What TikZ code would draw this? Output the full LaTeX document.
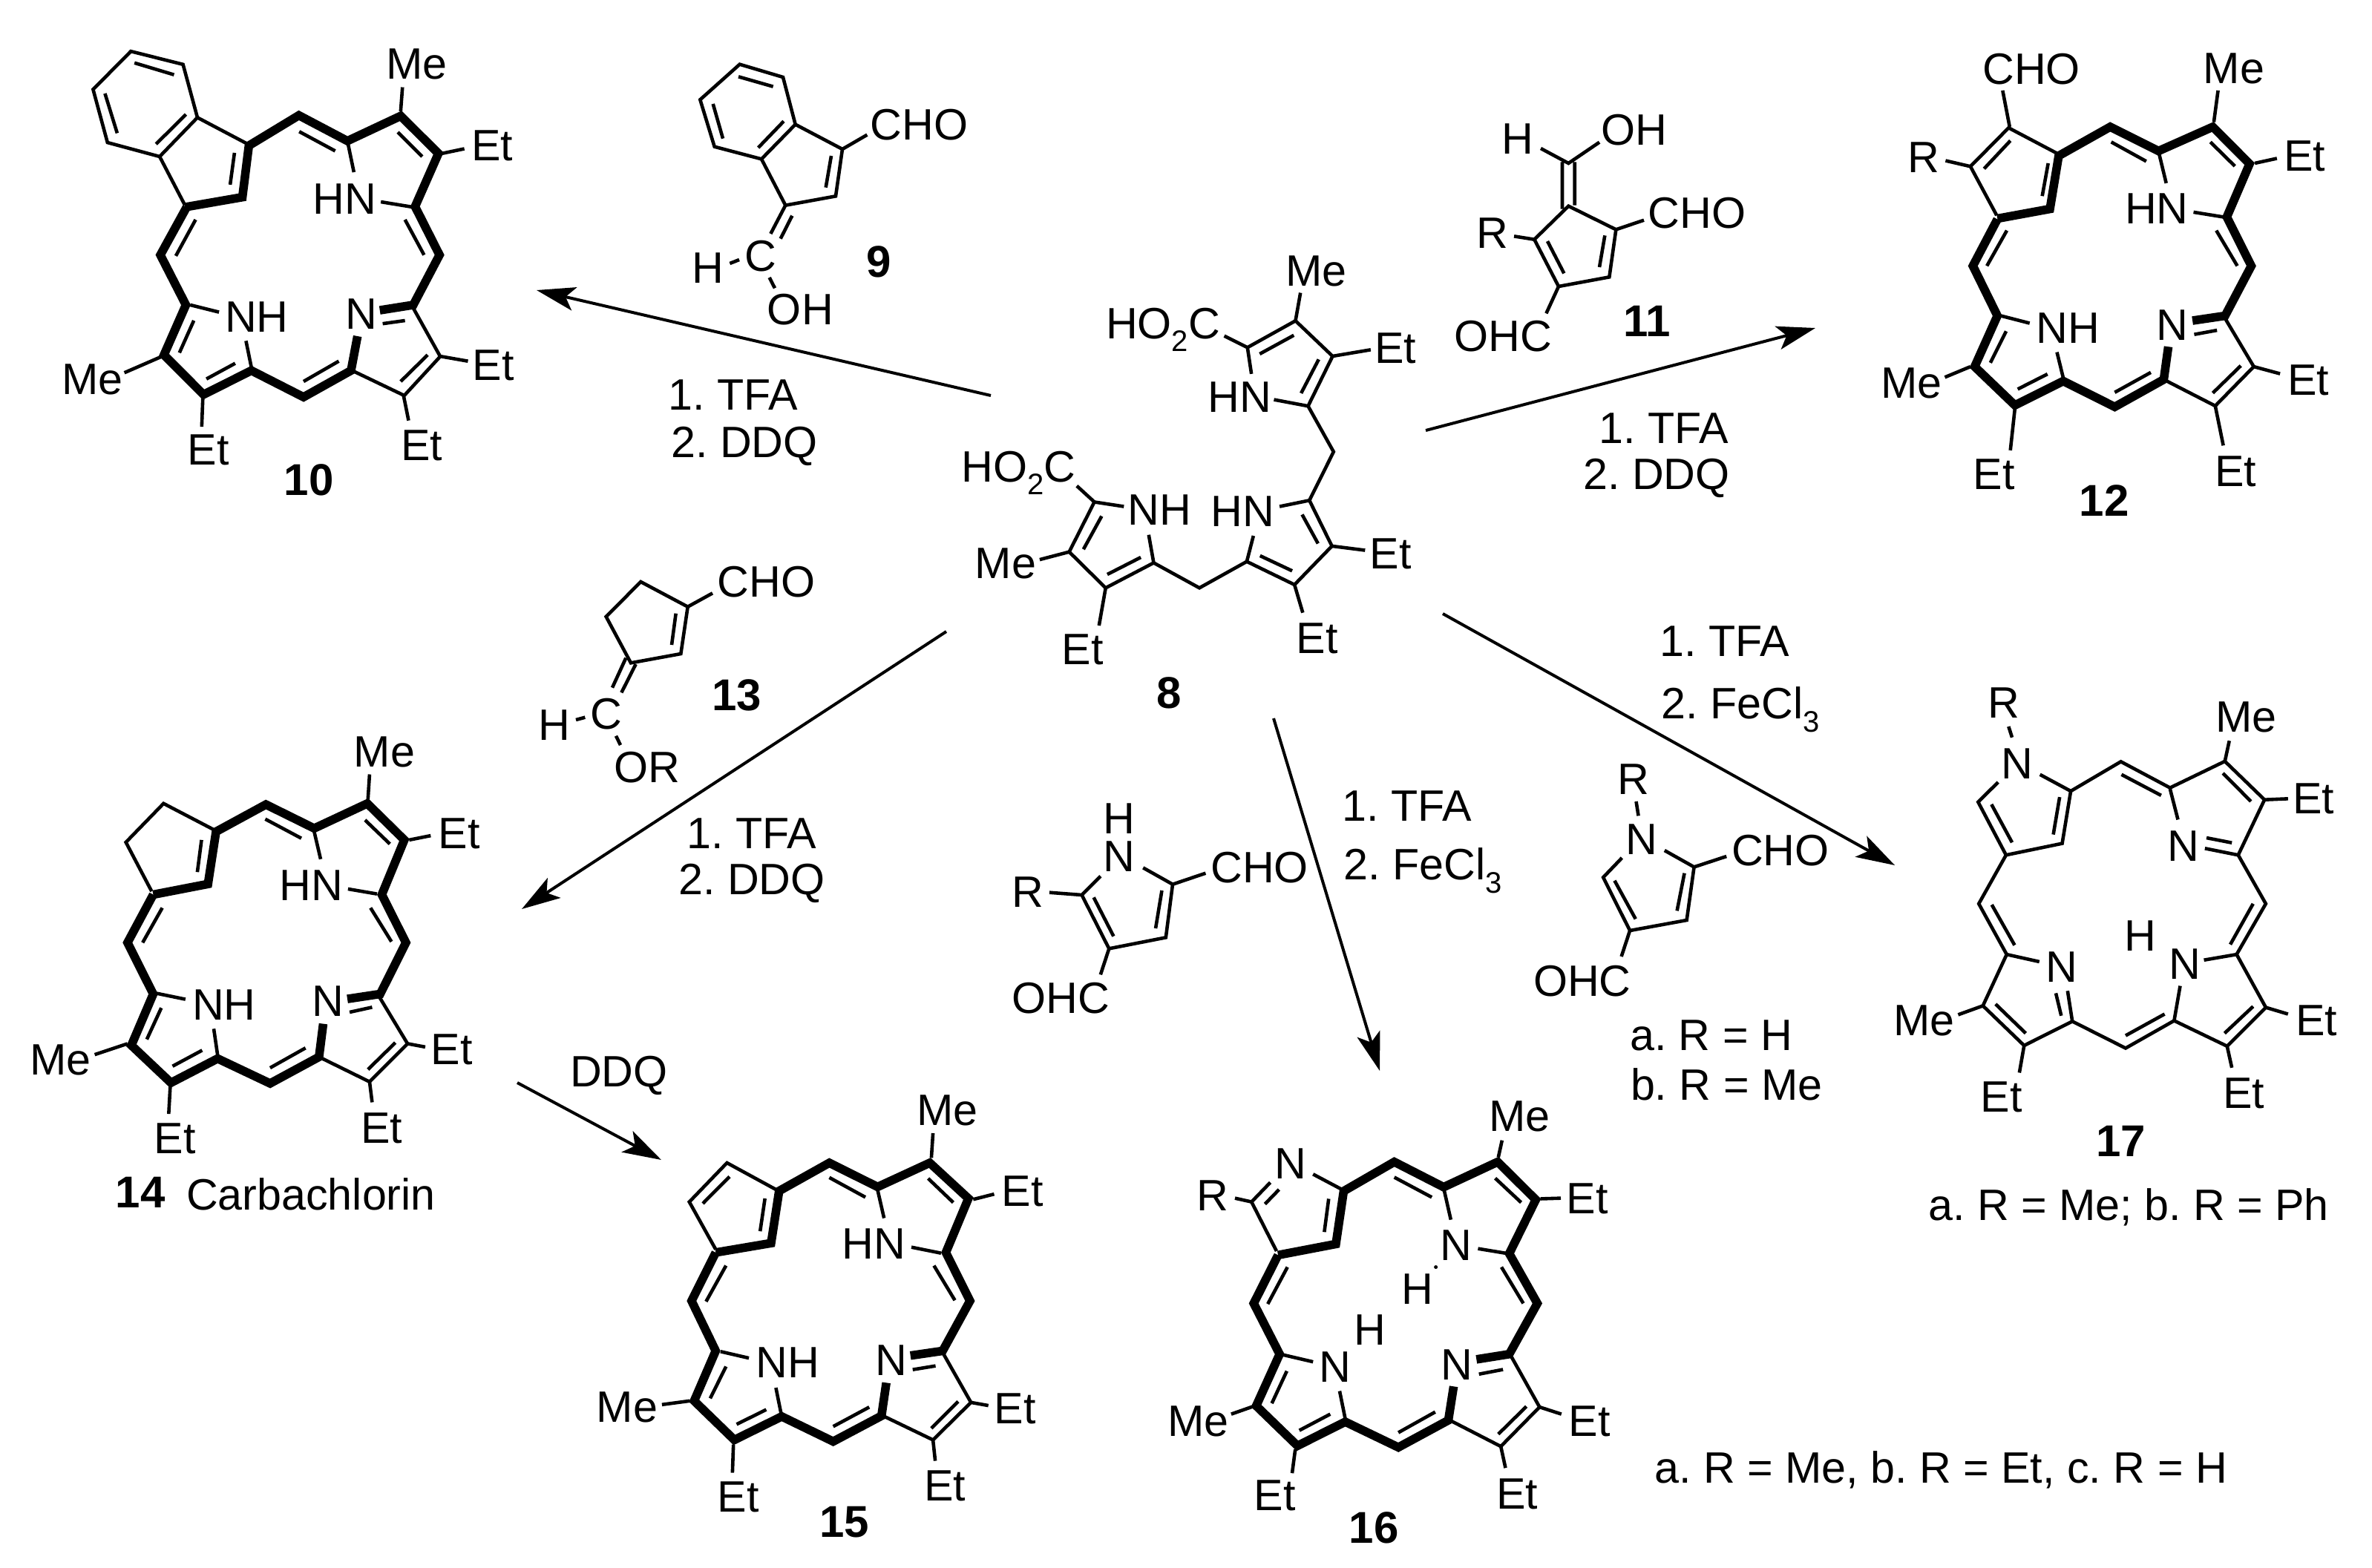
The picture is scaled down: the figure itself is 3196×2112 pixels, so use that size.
\documentclass[tikz,border=0pt]{standalone}
\usepackage{fontspec}
\setmainfont{Liberation Sans}
\usetikzlibrary{arrows.meta}
\newcommand{\lowr}[1]{\raisebox{-0.3em}{\fontsize{10}{11}\selectfont #1}}
\tikzset{
  atom/.style={inner sep=0pt,font=\fontsize{14.8}{16}\selectfont},
  cpd/.style={inner sep=0pt,font=\fontsize{15}{16}\selectfont\bfseries},
  thinb/.style={line width=1.15pt,line join=miter,line cap=butt},
  boldb/.style={line width=2.9pt,line join=miter,line cap=butt},
  rxn/.style={line width=1pt,-{Stealth[length=13pt,width=8pt,inset=3pt]}}
}
\begin{document}
\frenchspacing
\begin{tikzpicture}[x=0.25pt,y=-0.25pt]
\useasboundingbox (0,0) rectangle (3196,2112);
% ---------- reaction arrows
\coordinate (s10) at (1335,533); \coordinate (t10) at (723,391);
\coordinate (s12) at (1921,580); \coordinate (t12) at (2446,442);
\coordinate (s14) at (1275,851); \coordinate (t14) at (703,1225);
\coordinate (s17) at (1944,827); \coordinate (t17) at (2553,1166);
\coordinate (s16) at (1716,968); \coordinate (t16) at (1859,1443);
\coordinate (s15) at (697,1459); \coordinate (t15) at (891,1563);
\draw[rxn] (s10)--(t10);
\draw[rxn] (s12)--(t12);
\draw[rxn] (s14)--(t14);
\draw[rxn] (s17)--(t17);
\draw[rxn] (s16)--(t16);
\draw[rxn] (s15)--(t15);
\node[atom] (r1) at (988,532) {1. TFA};
\node[atom] (r2) at (1003,601) {2. DDQ};
\node[atom] (r3) at (2242,577) {1. TFA};
\node[atom] (r4) at (2232,644) {2. DDQ};
\node[atom] (r5) at (2324,864) {1. TFA};
\node[atom] (r6) at (2345,956) {2. FeCl\lowr{3}};
\node[atom] (r7) at (1013,1123) {1. TFA};
\node[atom] (r8) at (1013,1190) {2. DDQ};
\node[atom] (r9) at (834,1449) {DDQ};
\node[atom] (r10) at (1896,1086) {1. TFA};
\node[atom] (r11) at (1917,1173) {2. FeCl\lowr{3}};
\node[atom] (n17) at (2868,1627) {a. R = Me; b. R = Ph};
\node[atom] (n16) at (2615,1981) {a. R = Me, b. R = Et, c. R = H};
% ---------- 10
\begin{scope}[shift={(60,30)},xscale=.4847,yscale=.4209]
\draw[thinb] (425,305)--(385,135)--(240,93)--(135,215)--(175,385)--(320,430)--cycle;
\draw[thinb] (250,130)--(360,168) (168,228)--(202,355) (310,390)--(393,295);
\draw[thinb] (425,305)--(565,390) (320,430)--(390,585) (528,418)--(516,520);
\draw[boldb] (390,592)--(550,560)--(568,395)--(707,298)--(842,380)--(990,300)--(1095,420)--(1030,590)--(1098,745)--(1025,905)--(932,922);
\draw[boldb] (395,592)--(322,745)--(393,905)--(332,1065)--(442,1192)--(575,1115)--(720,1200)--(852,1115)--(870,1005);
\draw[thinb] (842,380)--(860,480) (935,575)--(1025,592) (405,905)--(485,928) (560,1020)--(575,1105);
\draw[thinb] (1025,915)--(1100,1070)--(1000,1195)--(855,1115);
\draw[thinb] (708,350)--(808,412) (982,352)--(1050,430) (1002,632)--(1055,745) (420,632)--(365,748) (415,955)--(375,1058) (450,1142)--(530,1092) (720,1150)--(818,1085) (940,965)--(1002,955) (990,1150)--(1065,1065);
\draw[thinb] (990,285)--(995,208) (1105,420)--(1167,405) (1103,1070)--(1177,1085) (998,1195)--(1012,1275) (440,1205)--(437,1295) (330,1068)--(222,1122);
\node[atom] (j1) at (1035,135) {Me};
\node[atom] (j2) at (1245,395) {Et};
\node[atom] (j3) at (835,565) {HN};
\node[atom] (j4) at (590,943) {NH};
\node[atom] (j5) at (880,935) {N};
\node[atom] (j6) at (1248,1098) {Et};
\node[atom] (j7) at (1048,1355) {Et};
\node[atom] (j8) at (455,1370) {Et};
\node[atom] (j9) at (133,1143) {Me};
\node[cpd] (j10) at (735,1465) {10};
\end{scope}
% ---------- 12
\begin{scope}[shift={(2460,30)},xscale=.4719,yscale=.4337]
\draw[boldb] (490,610)--(640,580)--(665,415)--(812,325)--(950,400)--(1105,325)--(1210,440)--(1145,605)--(1215,757)--(1140,912)--(1047,927);
\draw[boldb] (490,612)--(420,757)--(490,912)--(425,1070)--(540,1190)--(678,1115)--(825,1195)--(965,1110)--(978,1008);
\draw[thinb] (665,410)--(522,328)--(413,448)--(488,600) (527,368)--(452,455) (635,438)--(618,540);
\draw[thinb] (952,410)--(972,500) (1050,590)--(1135,605) (500,912)--(582,935) (660,1025)--(678,1105);
\draw[thinb] (1140,920)--(1222,1070)--(1112,1192)--(965,1110);
\draw[thinb] (815,372)--(915,432) (1098,372)--(1168,447) (1115,647)--(1175,757) (517,647)--(460,757) (515,960)--(470,1058) (548,1140)--(633,1093) (825,1150)--(928,1088) (1052,970)--(1117,957) (1105,1152)--(1185,1067);
\draw[thinb] (525,325)--(505,212) (413,448)--(342,430) (1108,310)--(1120,212) (1225,438)--(1288,423) (1222,1070)--(1297,1092) (1112,1192)--(1135,1315) (540,1200)--(527,1330) (413,1070)--(340,1103);
\node[atom] (k1) at (587,145) {CHO};
\node[atom] (k2) at (1165,145) {Me};
\node[atom] (k3) at (280,420) {R};
\node[atom] (k4) at (1367,415) {Et};
\node[atom] (k5) at (945,580) {HN};
\node[atom] (k6) at (692,950) {NH};
\node[atom] (k7) at (990,940) {N};
\node[atom] (k8) at (1378,1113) {Et};
\node[atom] (k9) at (1170,1395) {Et};
\node[atom] (k10) at (480,1405) {Et};
\node[atom] (k11) at (245,1122) {Me};
\node[cpd] (k12) at (795,1485) {12};
\end{scope}
% ---------- 14
\begin{scope}[shift={(20,960)},xscale=.4337,yscale=.4464]
\draw[boldb] (430,550)--(600,518)--(625,360)--(780,278)--(930,350)--(1095,275)--(1210,385)--(1140,550)--(1215,695)--(1135,850)--(1033,865);
\draw[boldb] (430,550)--(350,695)--(430,850)--(362,1005)--(485,1118)--(630,1045)--(793,1120)--(945,1040)--(958,940);
\draw[thinb] (620,355)--(462,275)--(345,392)--(425,540);
\draw[thinb] (930,360)--(950,443) (1035,533)--(1125,548) (440,848)--(530,866) (618,955)--(630,1035);
\draw[thinb] (1130,855)--(1220,1000)--(1102,1115)--(945,1040);
\draw[thinb] (580,385)--(567,482) (778,322)--(890,380) (1088,325)--(1165,397) (1105,590)--(1170,692) (458,590)--(397,695) (455,892)--(410,987) (490,1068)--(582,1020) (793,1073)--(903,1013) (1040,905)--(1110,890) (1097,1078)--(1182,997);
\draw[thinb] (1097,262)--(1102,187) (1225,385)--(1292,372) (1220,1000)--(1275,1010) (1102,1115)--(1110,1177) (483,1125)--(478,1212) (350,1000)--(248,1033);
\node[atom] (l1) at (1148,120) {Me};
\node[atom] (l2) at (1380,365) {Et};
\node[atom] (l3) at (920,522) {HN};
\node[atom] (l4) at (650,882) {NH};
\node[atom] (l5) at (972,872) {N};
\node[atom] (l6) at (1357,1018) {Et};
\node[atom] (l7) at (1140,1255) {Et};
\node[atom] (l8) at (497,1287) {Et};
\node[atom] (l9) at (142,1050) {Me};
\node[cpd] (l10) at (390,1450) {14};
\node[atom] (l11) at (920,1455) {Carbachlorin};
\end{scope}
% ---------- 15
\begin{scope}[shift={(780,1450)},xscale=.4337,yscale=.4209]
\draw[boldb] (425,565)--(597,535)--(622,368)--(778,278)--(928,355)--(1090,278)--(1210,392)--(1140,565)--(1215,720)--(1130,880)--(1030,895);
\draw[boldb] (425,565)--(350,720)--(425,880)--(358,1040)--(483,1165)--(630,1090)--(790,1170)--(940,1088)--(955,982);
\draw[thinb] (615,365)--(460,278)--(343,403)--(425,555) (468,322)--(385,408) (578,392)--(563,497);
\draw[thinb] (928,365)--(948,455) (1033,548)--(1125,567) (440,882)--(528,903) (612,998)--(628,1080);
\draw[thinb] (1130,885)--(1218,1045)--(1100,1165)--(945,1088);
\draw[thinb] (778,325)--(890,388) (1085,328)--(1163,405) (1103,607)--(1168,718) (457,607)--(395,722) (457,930)--(408,1032) (490,1115)--(582,1068) (790,1122)--(902,1060) (1037,940)--(1108,928) (1095,1128)--(1178,1042);
\draw[thinb] (1095,262)--(1100,183) (1225,395)--(1290,378) (1218,1045)--(1272,1055) (1100,1165)--(1107,1232) (480,1180)--(477,1270) (345,1040)--(258,1052);
\node[atom] (m1) at (1145,110) {Me};
\node[atom] (m2) at (1378,368) {Et};
\node[atom] (m3) at (917,538) {HN};
\node[atom] (m4) at (648,918) {NH};
\node[atom] (m5) at (970,910) {N};
\node[atom] (m6) at (1355,1065) {Et};
\node[atom] (m7) at (1137,1312) {Et};
\node[atom] (m8) at (495,1348) {Et};
\node[atom] (m9) at (150,1060) {Me};
\node[cpd] (m10) at (825,1428) {15};
\end{scope}
% ---------- 16
\begin{scope}[shift={(1560,1460)},xscale=.4209,yscale=.4145]
\draw[boldb] (385,558)--(570,522)--(595,350)--(757,255)--(915,337)--(1088,255)--(1210,378)--(1125,553)--(1215,715)--(1125,880)--(1020,897);
\draw[boldb] (385,558)--(307,715)--(390,880)--(315,1048)--(447,1178)--(600,1100)--(770,1183)--(930,1095)--(947,985);
\draw[thinb] (590,345)--(497,295) (360,322)--(300,385)--(380,545) (388,345)--(343,392) (547,375)--(533,483);
\draw[thinb] (915,340)--(938,443) (1025,537)--(1120,553) (400,882)--(497,905) (582,1000)--(600,1090);
\draw[thinb] (1130,885)--(1222,1052)--(1098,1180)--(935,1095);
\draw[thinb] (757,305)--(877,370) (1080,308)--(1163,387) (1100,597)--(1170,715) (415,597)--(352,717) (413,935)--(365,1040) (453,1128)--(552,1075) (770,1135)--(888,1068) (1028,945)--(1105,930) (1090,1140)--(1180,1050);
\draw[thinb] (1090,240)--(1102,185) (1225,375)--(1290,373) (1222,1052)--(1292,1075) (1098,1180)--(1113,1250) (440,1190)--(430,1267) (305,1050)--(235,1075) (300,385)--(247,373);
\fill (890,597) circle (6);
\node[atom] (o1) at (425,260) {N};
\node[atom] (o2) at (175,365) {R};
\node[atom] (o3) at (1158,108) {Me};
\node[atom] (o4) at (1375,375) {Et};
\node[atom] (o5) at (955,527) {N};
\node[atom] (o6) at (830,668) {H};
\node[atom] (o7) at (680,800) {H};
\node[atom] (o8) at (567,922) {N};
\node[atom] (o9) at (958,915) {N};
\node[atom] (o10) at (1382,1098) {Et};
\node[atom] (o11) at (1150,1335) {Et};
\node[atom] (o12) at (375,1340) {Et};
\node[atom] (o13) at (130,1098) {Me};
\node[cpd] (o14) at (692,1445) {16};
\end{scope}
% ---------- 17
\begin{scope}[shift={(2520,900)},xscale=.4273,yscale=.4464]
\draw[thinb] (403,345)--(340,405)--(428,565)--(605,530)--(632,372)--(790,283)--(945,362)--(1118,282)--(1243,398)--(1160,565)--(1247,712)--(1155,865)--(1247,1025)--(1125,1142)--(958,1065)--(805,1148)--(637,1067)--(485,1140)--(355,1020)--(430,865)--(342,712)--(428,565);
\draw[thinb] (632,372)--(535,322) (945,365)--(970,458) (1055,545)--(1160,565) (430,865)--(533,887) (622,975)--(637,1067) (1155,865)--(1052,882) (958,1065)--(977,960);
\draw[thinb] (382,412)--(447,527) (597,390)--(577,503) (792,322)--(917,385) (1112,318)--(1200,403) (1060,513)--(1140,528) (1207,712)--(1135,835) (383,715)--(455,837) (585,982)--(602,1050) (395,1015)--(490,1103) (805,1110)--(928,1045) (1117,1103)--(1207,1022);
\draw[thinb] (1118,282)--(1132,220) (1243,398)--(1317,395) (1247,1025)--(1317,1045) (1125,1142)--(1140,1207) (485,1140)--(470,1222) (355,1020)--(277,1047) (447,210)--(436,177);
\node[atom] (p1) at (420,105) {R};
\node[atom] (p2) at (463,290) {N};
\node[atom] (p3) at (1185,148) {Me};
\node[atom] (p4) at (1398,395) {Et};
\node[atom] (p5) at (987,537) {N};
\node[atom] (p6) at (852,808) {H};
\node[atom] (p7) at (992,893) {N};
\node[atom] (p8) at (603,903) {N};
\node[atom] (p9) at (1407,1065) {Et};
\node[atom] (p10) at (1178,1285) {Et};
\node[atom] (p11) at (413,1295) {Et};
\node[atom] (p12) at (170,1065) {Me};
\node[cpd] (p13) at (790,1428) {17};
\end{scope}
% ---------- 8
\begin{scope}[shift={(1250,300)},xscale=.4464,yscale=.4337]
\draw[thinb] (895,352)--(965,388)--(1110,305)--(1222,415)--(1148,570)--(1045,550) (965,388)--(977,470) (1002,408)--(1105,350) (1180,425)--(1127,530);
\draw[thinb] (1148,570)--(1225,712)--(1152,863)--(1062,882) (1152,863)--(1220,1005)--(1107,1125)--(963,1053)--(983,973) (1130,907)--(1178,997) (1100,1082)--(1003,1035);
\draw[thinb] (963,1053)--(820,1135)--(682,1057)--(667,970) (682,1057)--(537,1135)--(427,1023)--(503,868)--(592,882) (503,868)--(450,818) (542,1093)--(643,1040) (470,1015)--(525,912);
\draw[thinb] (1110,305)--(1125,218) (1222,415)--(1337,395) (1220,1005)--(1320,1018) (1107,1125)--(1132,1212) (537,1135)--(517,1252) (427,1023)--(338,1047);
\node[atom] (q1) at (1173,150) {Me};
\node[atom] (q2) at (710,333) {HO\lowr{2}C};
\node[atom] (q3) at (1412,390) {Et};
\node[atom] (q4) at (942,543) {HN};
\node[atom] (q5) at (275,778) {HO\lowr{2}C};
\node[atom] (q6) at (700,893) {NH};
\node[atom] (q7) at (950,897) {HN};
\node[atom] (q8) at (1397,1030) {Et};
\node[atom] (q9) at (1175,1292) {Et};
\node[atom] (q10) at (235,1060) {Me};
\node[atom] (q11) at (467,1327) {Et};
\node[cpd] (q12) at (728,1462) {8};
\end{scope}
% ---------- 9
\begin{scope}[shift={(900,100)},scale=1/3]
\draw[thinb] (290,-40)--(465,12)--(515,203)--(378,343)--(188,293)--(130,103)--cycle;
\draw[thinb] (285,10)--(425,50) (182,120)--(222,260) (365,297)--(468,190);
\draw[thinb] (515,203)--(705,303)--(678,493)--(475,530)--(378,343) (660,330)--(638,458) (705,303)--(805,245);
\draw[thinb] (475,530)--(415,645) (502,572)--(455,665) (250,765)--(288,750) (410,822)--(432,865);
\node[atom] (u1) at (1015,203) {CHO};
\node[atom] (u2) at (163,783) {H};
\node[atom] (u3) at (375,735) {C};
\node[atom] (u4) at (535,950) {OH};
\node[cpd] (u5) at (853,757) {9};
\end{scope}
% ---------- 11
\begin{scope}[shift={(1920,130)},scale=1/3]
\draw[thinb] (468,210)--(580,270)--(705,185) (555,265)--(555,455) (605,265)--(605,440);
\draw[thinb] (580,443)--(772,538)--(745,730)--(540,768)--(442,578)--cycle;
\draw[thinb] (727,562)--(705,690) (495,585)--(562,715) (772,538)--(885,500) (442,578)--(360,565) (540,768)--(490,877);
\node[atom] (v1) at (375,170) {H};
\node[atom] (v2) at (845,135) {OH};
\node[atom] (v3) at (272,552) {R};
\node[atom] (v4) at (1100,472) {CHO};
\node[atom] (v5) at (315,968) {OHC};
\node[cpd] (v6) at (898,910) {11};
\end{scope}
% ---------- 13
\begin{scope}[shift={(700,720)},scale=1/3]
\draw[thinb] (490,192)--(680,293)--(652,483)--(450,520)--(350,333)--cycle;
\draw[thinb] (680,293)--(780,238) (632,320)--(615,447) (430,500)--(375,620) (470,525)--(412,640) (228,750)--(265,740) (390,815)--(408,852);
\node[atom] (w1) at (997,192) {CHO};
\node[atom] (w2) at (140,770) {H};
\node[atom] (w3) at (350,725) {C};
\node[atom] (w4) at (515,942) {OR};
\node[cpd] (w5) at (878,650) {13};
\end{scope}
% ---------- pyrroles
\begin{scope}[shift={(1280,1050)},xscale=.7653,yscale=1/3]
\draw[thinb] (265,392)--(232,468)--(280,685)--(380,640)--(392,425)--(340,358) (392,425)--(450,380) (232,468)--(175,458) (280,685)--(265,790) (253,478)--(288,635) (373,450)--(362,603);
\node[atom] (x1) at (298,312) {N};
\node[atom] (x2) at (298,160) {H};
\node[atom] (x3) at (545,358) {CHO};
\node[atom] (x4) at (137,455) {R};
\node[atom] (x5) at (195,885) {OHC};
\draw[thinb] (1208,90)--(1212,148) (1183,318)--(1150,397)--(1197,612)--(1297,570)--(1310,355)--(1258,288) (1310,355)--(1367,312) (1197,612)--(1182,717) (1170,410)--(1207,565) (1293,380)--(1280,532);
\node[atom] (y1) at (1218,243) {N};
\node[atom] (y2) at (1203,0) {R};
\node[atom] (y3) at (1462,288) {CHO};
\node[atom] (y4) at (1113,815) {OHC};
\node[atom] (y5) at (1340,1035) {a. R = H};
\node[atom] (y6) at (1367,1235) {b. R = Me};
\end{scope}
\end{tikzpicture}
\end{document}
